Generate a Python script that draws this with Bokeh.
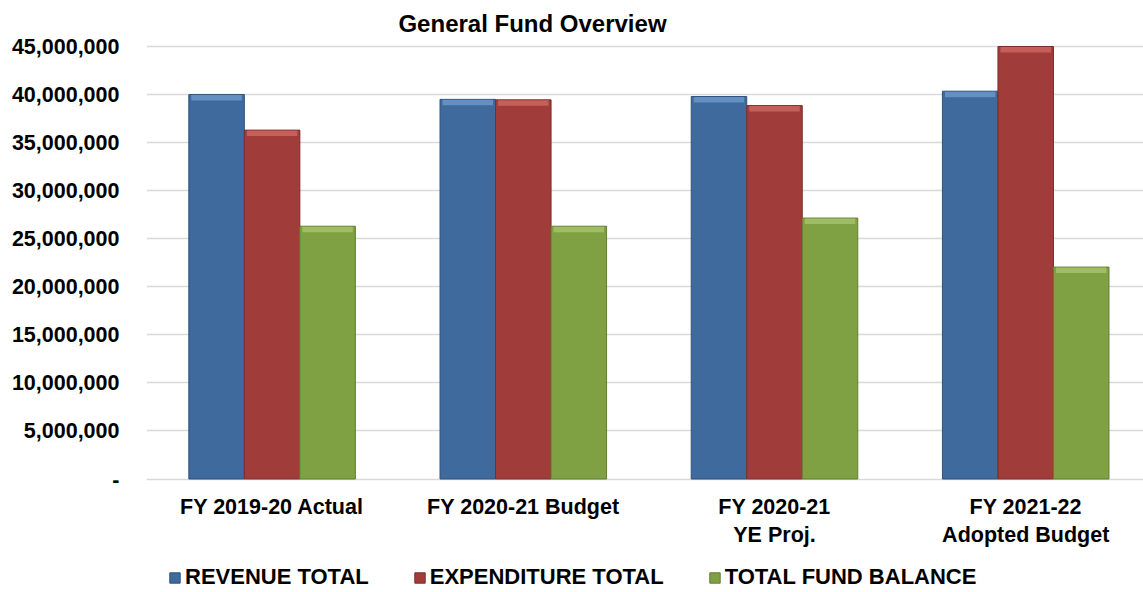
from bokeh.plotting import figure
from bokeh.models import Range1d, FixedTicker, NumeralTickFormatter, Legend, LegendItem, Label, ColumnDataSource
from bokeh.core.properties import value
from bokeh.embed import file_html
from bokeh.resources import INLINE

# ---- data ----
categories = ["FY 2019-20 Actual", "FY 2020-21 Budget", "FY 2020-21\nYE Proj.", "FY 2021-22\nAdopted Budget"]
series_names = ["REVENUE TOTAL", "EXPENDITURE TOTAL", "TOTAL FUND BALANCE"]
revenue_total = [40000000, 39500000, 39800000, 40350000]
expenditure_total = [36300000, 39450000, 38850000, 45000000]
total_fund_balance = [26300000, 26300000, 27150000, 22050000]
y_ticks = [0, 5000000, 10000000, 15000000, 20000000, 25000000, 30000000, 35000000, 40000000, 45000000]

series_values = [revenue_total, expenditure_total, total_fund_balance]
fill_colors = ["#3E6A9E", "#A03C3A", "#80A044"]
edge_colors = ["#2F527C", "#7C2C2A", "#627D31"]
top_colors = ["#6E98CC", "#CF6663", "#A6C56B"]

FONT = "Liberation Sans"
W, H = 1143, 592
FRAME_LEFT = 146
Y_TOP_PX, Y_ZERO_PX = 46.0, 478.5          # pixel rows of the 45M line and the 0 line
Y_MAX = 45000000
px_per_unit = (Y_ZERO_PX - Y_TOP_PX) / Y_MAX
y_start = -(H - Y_ZERO_PX) / px_per_unit
y_end = Y_MAX + Y_TOP_PX / px_per_unit
cat_px = 251.2
x_end = (W - FRAME_LEFT) / cat_px

p = figure(width=W, height=H, output_backend="svg", toolbar_location=None,
           x_range=Range1d(0, x_end), y_range=Range1d(y_start, y_end),
           min_border_left=FRAME_LEFT, min_border_right=0, min_border_top=0, min_border_bottom=0)
p.outline_line_color = None
p.background_fill_color = "white"
p.border_fill_color = "white"

bar_w = 0.221
bevel_h = 6 / px_per_unit

renderers = []
for s, vals in enumerate(series_values):
    xs = [i + 0.5 + (s - 1) * bar_w for i in range(len(categories))]
    src = ColumnDataSource(dict(x=xs, top=vals,
                                left=[x - bar_w / 2 + 0.01 for x in xs],
                                right=[x + bar_w / 2 - 0.01 for x in xs],
                                btop=[v - 0.5 / px_per_unit for v in vals],
                                bbot=[v - bevel_h for v in vals]))
    r = p.vbar(x="x", top="top", bottom=0, width=bar_w, source=src,
               fill_color=fill_colors[s], line_color=edge_colors[s], line_width=1)
    p.quad(left="left", right="right", top="btop", bottom="bbot", source=src,
           fill_color=top_colors[s], line_color=None, fill_alpha=0.8)
    renderers.append(r)

# y axis
p.yaxis.ticker = FixedTicker(ticks=y_ticks)
p.yaxis.formatter = NumeralTickFormatter(format="0,0")
p.yaxis.major_label_overrides = {0: "-"}
p.yaxis.axis_line_color = None
p.yaxis.major_tick_line_color = None
p.yaxis.minor_tick_line_color = None
p.yaxis.major_tick_out = 0
p.yaxis.major_tick_in = 0
p.yaxis.major_label_standoff = 27
p.yaxis.major_label_text_font = FONT
p.yaxis.major_label_text_font_style = "bold"
p.yaxis.major_label_text_font_size = "21.5px"
p.yaxis.major_label_text_color = "black"

p.xaxis.visible = False
p.xgrid.grid_line_color = None
p.ygrid.grid_line_color = "#D9D9D9"
p.ygrid.grid_line_width = 1.5

# category labels under the bars
label_y = -(494 - Y_ZERO_PX) / px_per_unit
cat_src = ColumnDataSource(dict(x=[i + 0.5 for i in range(len(categories))],
                                y=[label_y] * len(categories), text=categories))
p.text(x="x", y="y", text="text", source=cat_src, text_font=value(FONT),
       text_font_style="bold", text_font_size="21.5px", text_align="center",
       text_baseline="top", text_line_height=1.2, text_color="black")

# title
title = Label(x=532 - FRAME_LEFT, y=H - 23, x_units="screen", y_units="screen",
              text="General Fund Overview",
              text_font=FONT, text_font_style="bold", text_font_size="24px",
              text_align="center", text_baseline="middle", text_color="black")
p.add_layout(title)

# legend
legend = Legend(items=[LegendItem(label=n, renderers=[r]) for n, r in zip(series_names, renderers)],
                location=(22, 2), orientation="horizontal",
                padding=0, margin=0, spacing=44, label_standoff=4,
                glyph_width=13, glyph_height=13,
                label_text_font=FONT, label_text_font_style="bold", label_text_font_size="22px",
                label_text_color="black", border_line_color=None, background_fill_alpha=0)
p.add_layout(legend, "center")

open("out.html", "w").write(file_html(p, INLINE))
